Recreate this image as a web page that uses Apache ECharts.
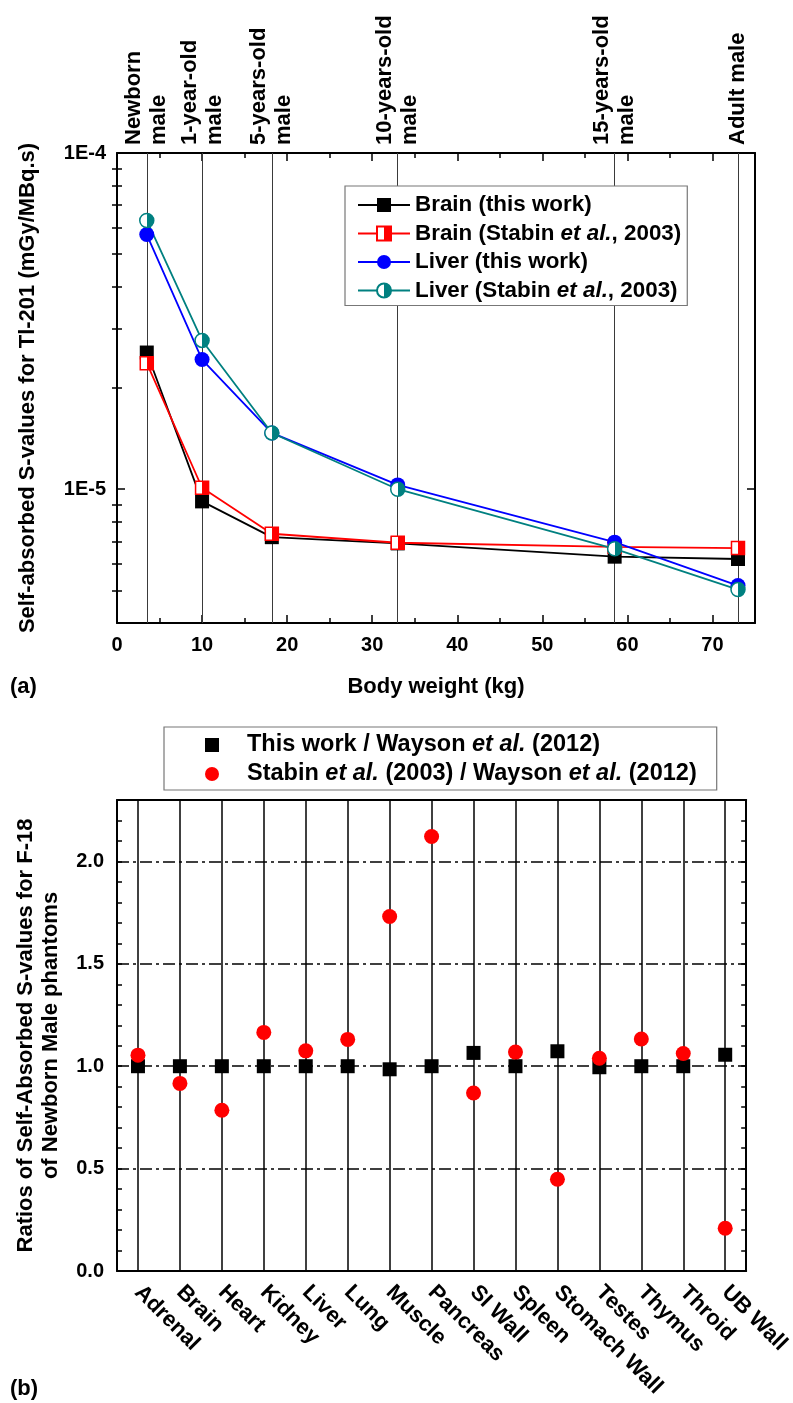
<!DOCTYPE html>
<html>
<head>
    <meta charset="utf-8" />
    <title>S-values</title>
    <script src="https://cdn.jsdelivr.net/npm/echarts@6/dist/echarts.min.js"></script>
    <style type="text/css">
        html,
        body {
            width: 100%;
            height: 100%;
            margin: 0;
            background: #fff;
        }

        #main {
            width: 793px;
            height: 1403px;
        }
    </style>
</head>
<body>
    <div id="main"></div>
    <script>
        // (a) phantom body weights (kg) and self-absorbed S-values
        var weights = [3.5, 10, 18.2, 33, 58.5, 73];
        var phantomLabels = ['Newborn\nmale', '1-year-old\nmale', '5-years-old\nmale', '10-years-old\nmale', '15-years-old\nmale', 'Adult male'];
        var brainThis = [2.55e-5, 9.2e-6, 7.2e-6, 6.9e-6, 6.3e-6, 6.2e-6];
        var brainStabin = [2.37e-5, 1.01e-5, 7.37e-6, 6.93e-6, 6.74e-6, 6.68e-6];
        var liverThis = [5.72e-5, 2.43e-5, 1.47e-5, 1.03e-5, 6.96e-6, 5.17e-6];
        var liverStabin = [6.3e-5, 2.77e-5, 1.47e-5, 1.0e-5, 6.65e-6, 5.03e-6];
        var logMinorTicks = [5e-6, 6e-6, 7e-6, 8e-6, 9e-6, 2e-5, 3e-5, 4e-5, 5e-5, 6e-5, 7e-5, 8e-5, 9e-5];

        // (b) ratios for F-18, newborn male
        var organs = ['Adrenal', 'Brain', 'Heart', 'Kidney', 'Liver', 'Lung', 'Muscle', 'Pancreas', 'SI Wall', 'Spleen', 'Stomach Wall', 'Testes', 'Thymus', 'Throid', 'UB Wall'];
        var ratioThis = [1.00, 1.00, 1.00, 1.00, 1.00, 1.00, 0.985, 1.00, 1.065, 1.00, 1.073, 0.995, 1.00, 1.00, 1.056];
        var ratioStabin = [1.054, 0.916, 0.785, 1.165, 1.075, 1.131, 1.731, 2.122, 0.869, 1.069, 0.448, 1.039, 1.133, 1.062, 0.209];
        var ratioTicks = [0, 0.5, 1.0, 1.5, 2.0];

        var FONT = '"Liberation Sans", Arial, sans-serif';
        var TEAL = '#008080';
        var SQUARE = 'path://M0,0H10V10H0Z';

        function pairs(xs, ys) {
            return xs.map(function (x, i) { return [x, ys[i]]; });
        }

        function halfFill(color) {
            return {
                type: 'linear', x: 0, y: 0, x2: 1, y2: 0,
                colorStops: [
                    { offset: 0, color: '#fff' }, { offset: 0.5, color: '#fff' },
                    { offset: 0.5, color: color }, { offset: 1, color: color }
                ]
            };
        }

        var frame = { show: true, onZero: false, lineStyle: { color: '#000', width: 2 } };
        var noLine = { show: false };
        var lbl = { fontFamily: FONT, fontWeight: 'bold', fontSize: 20, color: '#000' };
        var nameStyle = { fontFamily: FONT, fontWeight: 'bold', fontSize: 22, color: '#000' };

        function tickAxis(extra) {
            var a = {
                axisLine: noLine,
                axisLabel: { show: false },
                splitLine: { show: false },
                axisTick: { show: true, inside: true, length: 5, lineStyle: { color: '#000', width: 1.5 } }
            };
            for (var k in extra) a[k] = extra[k];
            return a;
        }

        function legendText(size) {
            return {
                fontFamily: FONT, fontWeight: 'bold', fontSize: size, color: '#000', lineHeight: 24,
                rich: { i: { fontFamily: FONT, fontWeight: 'bold', fontStyle: 'italic', fontSize: size, color: '#000', lineHeight: 24 } }
            };
        }
        function italicEtAl(name) {
            return name.replace(/et al\./g, '{i|et al.}');
        }

        var chart = echarts.init(document.getElementById('main'));

        var option = {
            animation: false,
            backgroundColor: '#fff',
            grid: [
                { left: 117, right: 38, top: 153, height: 470 },
                { left: 117, right: 38, top: 800, height: 471 }
            ],
            legend: [
                {
                    orient: 'vertical', left: 345, top: 186,
                    padding: [7, 6, 3, 12], itemGap: 4.5, itemWidth: 52, itemHeight: 17.5,
                    borderColor: '#777', borderWidth: 1.2, backgroundColor: '#fff',
                    textStyle: legendText(22.4), formatter: italicEtAl,
                    data: ['Brain (this work)', 'Brain (Stabin et al., 2003)', 'Liver (this work)', 'Liver (Stabin et al., 2003)']
                },
                {
                    orient: 'vertical', left: 164, top: 727,
                    padding: [6, 20, 4, 41], itemGap: 5, itemWidth: 60, itemHeight: 14,
                    borderColor: '#777', borderWidth: 1.2, symbolKeepAspect: true,
                    textStyle: legendText(23.5), formatter: italicEtAl,
                    data: ['This work / Wayson et al. (2012)', 'Stabin et al. (2003) / Wayson et al. (2012)']
                }
            ],
            xAxis: [
                // (a) bottom
                {
                    type: 'value', gridIndex: 0, position: 'bottom', min: 0, max: 75, interval: 10,
                    axisLine: frame, splitLine: { show: false },
                    axisTick: { inside: true, length: 8, lineStyle: { color: '#000', width: 1.5 } },
                    axisLabel: Object.assign({ margin: 12, showMaxLabel: false }, lbl),
                    name: 'Body weight (kg)', nameLocation: 'middle', nameGap: 53, nameTextStyle: nameStyle
                },
                tickAxis({ type: 'value', gridIndex: 0, position: 'bottom', min: 0, max: 75, interval: 5 }),
                // (a) top, phantom names
                {
                    type: 'value', gridIndex: 0, position: 'top', min: 0, max: 75, interval: 10,
                    axisLine: frame, splitLine: { show: false },
                    axisTick: { inside: true, length: 8, lineStyle: { color: '#000', width: 1.5 } },
                    axisLabel: Object.assign({
                        customValues: weights, rotate: -90, margin: 8, fontSize: 22, lineHeight: 25,
                        formatter: function (v) {
                            var best = 0;
                            weights.forEach(function (w, i) {
                                if (Math.abs(w - v) < Math.abs(weights[best] - v)) best = i;
                            });
                            return phantomLabels[best];
                        }
                    }, { fontFamily: FONT, fontWeight: 'bold', color: '#000' })
                },
                tickAxis({ type: 'value', gridIndex: 0, position: 'top', min: 0, max: 75, interval: 5 }),
                // (b) bottom categories
                {
                    type: 'category', gridIndex: 1, position: 'bottom', data: organs, boundaryGap: true,
                    axisLine: frame, axisTick: { show: false },
                    axisLabel: Object.assign({ rotate: -45, margin: 18, interval: 0, fontSize: 22 }, { fontFamily: FONT, fontWeight: 'bold', color: '#000' })
                },
                {
                    type: 'category', gridIndex: 1, position: 'top', data: organs, boundaryGap: true,
                    axisLine: frame, axisTick: { show: false }, axisLabel: { show: false }
                }
            ],
            yAxis: [
                // (a) left log axis
                {
                    type: 'log', logBase: 10, gridIndex: 0, position: 'left', min: 4e-6, max: 1e-4,
                    axisLine: frame, splitLine: { show: false }, minorTick: { show: false },
                    axisTick: { inside: true, length: 8, lineStyle: { color: '#000', width: 1.5 } },
                    axisLabel: Object.assign({
                        margin: 11, showMinLabel: false,
                        formatter: function (v) {
                            var e = Math.log10(v), r = Math.round(e);
                            return Math.abs(e - r) < 1e-6 ? '1E' + r : '';
                        }
                    }, lbl),
                    name: 'Self-absorbed S-values for Tl-201 (mGy/MBq.s)', nameLocation: 'middle', nameRotate: 90,
                    nameGap: 78, nameTextStyle: nameStyle
                },
                tickAxis({ type: 'value', gridIndex: 0, position: 'left', min: Math.log10(4e-6), max: -4, axisTick: { show: true, inside: true, length: 5, customValues: logMinorTicks.map(Math.log10), lineStyle: { color: '#000', width: 1.5 } } }),
                {
                    type: 'log', logBase: 10, gridIndex: 0, position: 'right', min: 4e-6, max: 1e-4,
                    axisLine: frame, splitLine: { show: false }, minorTick: { show: false },
                    axisTick: { inside: true, length: 8, lineStyle: { color: '#000', width: 1.5 } },
                    axisLabel: { show: false }
                },
                tickAxis({ type: 'value', gridIndex: 0, position: 'right', min: Math.log10(4e-6), max: -4, axisTick: { show: true, inside: true, length: 5, customValues: logMinorTicks.map(Math.log10), lineStyle: { color: '#000', width: 1.5 } } }),
                // (b) left ratio axis
                {
                    type: 'value', gridIndex: 1, position: 'left', min: 0, max: 2.3, interval: 0.5,
                    axisLine: frame,
                    axisTick: { inside: true, length: 8, customValues: ratioTicks, lineStyle: { color: '#000', width: 1.5 } },
                    splitLine: { show: true, showMinLine: false, showMaxLine: true, lineStyle: { color: '#000', width: 1.5, type: [12, 4, 3, 4] } },
                    axisLabel: Object.assign({
                        margin: 13, customValues: ratioTicks,
                        formatter: function (v) { return v.toFixed(1); }
                    }, lbl),
                    name: 'Ratios of Self-Absorbed S-values for F-18\nof Newborn Male phantoms', nameLocation: 'middle', nameRotate: 90,
                    nameGap: 54, nameTextStyle: Object.assign({ lineHeight: 25 }, nameStyle)
                },
                tickAxis({ type: 'value', gridIndex: 1, position: 'left', min: 0, max: 2.3, interval: 0.1 }),
                {
                    type: 'value', gridIndex: 1, position: 'right', min: 0, max: 2.3, interval: 0.5,
                    axisLine: frame, splitLine: { show: false }, axisLabel: { show: false },
                    axisTick: { inside: true, length: 8, customValues: ratioTicks, lineStyle: { color: '#000', width: 1.5 } }
                },
                tickAxis({ type: 'value', gridIndex: 1, position: 'right', min: 0, max: 2.3, interval: 0.1 })
            ],
            graphic: [
                { type: 'text', left: 10, top: 676, style: { text: '(a)', font: 'bold 22px ' + FONT, fill: '#000' } },
                { type: 'text', left: 10, top: 1378, style: { text: '(b)', font: 'bold 22px ' + FONT, fill: '#000' } }
            ],
            series: [
                {
                    name: 'Brain (this work)', type: 'line', xAxisIndex: 0, yAxisIndex: 0,
                    data: pairs(weights, brainThis), symbol: SQUARE, symbolSize: 14, symbolKeepAspect: true,
                    itemStyle: { color: '#000' }, lineStyle: { color: '#000', width: 1.8 },
                    markLine: {
                        silent: true, z: 1, symbol: ['none', 'none'], label: { show: false },
                        lineStyle: { color: '#3a3a3a', width: 1, type: 'solid' },
                        data: weights.map(function (w) { return { xAxis: w }; })
                    }
                },
                {
                    name: 'Brain (Stabin et al., 2003)', type: 'line', xAxisIndex: 0, yAxisIndex: 0,
                    data: pairs(weights, brainStabin), symbol: SQUARE, symbolSize: 13, symbolKeepAspect: true,
                    itemStyle: { color: halfFill('#ff0000'), borderColor: '#ff0000', borderWidth: 1.5 },
                    lineStyle: { color: '#ff0000', width: 1.8 }
                },
                {
                    name: 'Liver (this work)', type: 'line', xAxisIndex: 0, yAxisIndex: 0,
                    data: pairs(weights, liverThis), symbol: 'circle', symbolSize: 15,
                    itemStyle: { color: '#0000ff' }, lineStyle: { color: '#0000ff', width: 1.8 }
                },
                {
                    name: 'Liver (Stabin et al., 2003)', type: 'line', xAxisIndex: 0, yAxisIndex: 0,
                    data: pairs(weights, liverStabin), symbol: 'circle', symbolSize: 14,
                    itemStyle: { color: halfFill(TEAL), borderColor: TEAL, borderWidth: 1.5 },
                    lineStyle: { color: TEAL, width: 1.8 }
                },
                {
                    name: 'This work / Wayson et al. (2012)', type: 'scatter', xAxisIndex: 4, yAxisIndex: 4,
                    data: ratioThis, symbol: SQUARE, symbolSize: 14, symbolKeepAspect: true,
                    itemStyle: { color: '#000', opacity: 1 },
                    markLine: {
                        silent: true, z: 1, symbol: ['none', 'none'], label: { show: false },
                        lineStyle: { color: '#000', width: 1.5, type: 'solid' },
                        data: organs.map(function (o) { return { xAxis: o }; })
                    }
                },
                {
                    name: 'Stabin et al. (2003) / Wayson et al. (2012)', type: 'scatter', xAxisIndex: 4, yAxisIndex: 4,
                    data: ratioStabin, symbol: 'circle', symbolSize: 15, itemStyle: { color: '#ff0000', opacity: 1 }
                }
            ]
        };

        chart.setOption(option);
    </script>
</body>
</html>
